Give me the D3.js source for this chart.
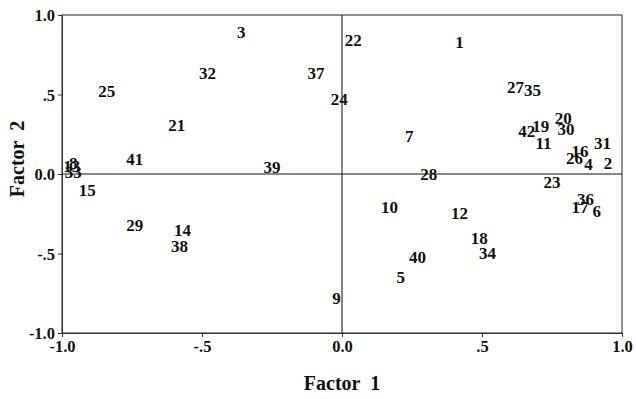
<!DOCTYPE html>
<html>
<head>
<meta charset="utf-8">
<script src="https://cdn.jsdelivr.net/npm/d3@7"></script>
<style>
  html, body { margin: 0; padding: 0; background: #fff; }
  svg text { font-family: "Liberation Serif", "Times New Roman", serif; font-weight: bold; fill: #111; }
</style>
</head>
<body>
<svg id="chart" width="636" height="399"></svg>
<script>
// Case numbers and their loadings on the two factors
const caseIds = ["3","22","1","32","37","25","24","27","35","21","7","42","19","20","30","11","16","31","26","4","2","41","39","8","13","33","28","23","15","10","12","36","17","6","29","14","18","38","40","34","5","9"];
const factor1 = [-0.36,0.04,0.42,-0.48,-0.093,-0.84,-0.01,0.62,0.68,-0.59,0.24,0.66,0.71,0.79,0.80,0.72,0.85,0.93,0.83,0.88,0.95,-0.74,-0.25,-0.96,-0.965,-0.96,0.31,0.75,-0.91,0.17,0.42,0.87,0.85,0.91,-0.74,-0.57,0.49,-0.58,0.27,0.52,0.21,-0.02];
const factor2 = [0.89,0.84,0.83,0.635,0.635,0.52,0.47,0.55,0.53,0.31,0.24,0.27,0.30,0.35,0.28,0.195,0.145,0.195,0.10,0.06,0.07,0.095,0.045,0.07,0.05,0.01,0.0,-0.05,-0.10,-0.21,-0.245,-0.16,-0.21,-0.23,-0.32,-0.35,-0.40,-0.45,-0.52,-0.50,-0.65,-0.78];

const tickValues = [-1, -0.5, 0, 0.5, 1];
const tickLabels = ["-1.0", "-.5", "0.0", ".5", "1.0"];

const svg = d3.select("#chart");
const plotLeft = 62, plotRight = 622, plotTop = 15, plotBottom = 333;

const x = d3.scaleLinear().domain([-1, 1]).range([plotLeft, plotRight]);
const y = d3.scaleLinear().domain([-1, 1]).range([plotBottom, plotTop]);
const fmt = d => tickLabels[tickValues.indexOf(d)];

// Frame
svg.append("rect")
  .attr("x", plotLeft).attr("y", plotTop)
  .attr("width", plotRight - plotLeft).attr("height", plotBottom - plotTop)
  .attr("fill", "none").attr("stroke", "#222").attr("stroke-width", 1);

// Zero reference lines
svg.append("line")
  .attr("x1", x(-1)).attr("x2", x(1)).attr("y1", y(0)).attr("y2", y(0))
  .attr("stroke", "#111").attr("stroke-width", 1);
svg.append("line")
  .attr("x1", x(0)).attr("x2", x(0)).attr("y1", y(-1)).attr("y2", y(1))
  .attr("stroke", "#111").attr("stroke-width", 1);

// Axes
const xAxis = svg.append("g")
  .attr("transform", `translate(0,${plotBottom})`)
  .call(d3.axisBottom(x).tickValues(tickValues).tickFormat(fmt).tickSize(4).tickPadding(3));
const yAxis = svg.append("g")
  .attr("transform", `translate(${plotLeft},0)`)
  .call(d3.axisLeft(y).tickValues(tickValues).tickFormat(fmt).tickSize(4).tickPadding(3));
[xAxis, yAxis].forEach(g => {
  g.select(".domain").attr("stroke", "#333");
  g.selectAll(".tick line").attr("stroke", "#333");
  g.selectAll(".tick text").style("font-size", "16.5px")
    .style("font-family", "'Liberation Serif', serif").style("font-weight", "bold").attr("fill", "#111");
});
yAxis.selectAll(".tick text").attr("dy", "0.35em");

// Case labels placed at their factor loadings
const pts = caseIds.map((id, i) => ({ id, f1: factor1[i], f2: factor2[i] }));
svg.append("g").selectAll("text")
  .data(pts)
  .join("text")
  .attr("x", d => x(d.f1))
  .attr("y", d => y(d.f2))
  .attr("text-anchor", "middle")
  .attr("dy", "0.35em")
  .style("font-size", "17px")
  .text(d => d.id);

// Axis titles
svg.append("text")
  .attr("x", x(0)).attr("y", 390)
  .attr("text-anchor", "middle")
  .style("font-size", "20px")
  .attr("xml:space", "preserve")
  .text("Factor  1");
svg.append("text")
  .attr("transform", `translate(24,${y(0) - 15}) rotate(-90)`)
  .attr("text-anchor", "middle")
  .style("font-size", "20px")
  .attr("xml:space", "preserve")
  .text("Factor  2");
</script>
</body>
</html>
